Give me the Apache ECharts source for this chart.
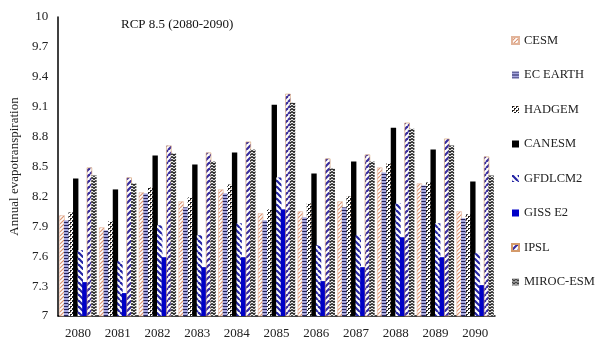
<!DOCTYPE html>
<html><head><meta charset="utf-8">
<script src="https://cdn.jsdelivr.net/npm/echarts@6/dist/echarts.min.js"></script>
<style>html,body{margin:0;padding:0;background:#fff}#c{width:597px;height:341px}</style>
</head><body><div id="c"></div>
<script>
const categories = ['2080','2081','2082','2083','2084','2085','2086','2087','2088','2089','2090'];
const cesm    = [8.01, 7.89, 8.24, 8.15, 8.27, 8.03, 8.05, 8.15, 8.49, 8.33, 8.05];
const ecEarth = [7.96, 7.86, 8.23, 8.09, 8.23, 7.96, 7.99, 8.09, 8.44, 8.31, 7.98];
const hadgem  = [8.04, 7.95, 8.29, 8.19, 8.32, 8.07, 8.13, 8.20, 8.53, 8.34, 8.02];
const canesm  = [8.38, 8.27, 8.61, 8.52, 8.64, 9.12, 8.43, 8.55, 8.89, 8.67, 8.35];
const gfdlcm2 = [7.66, 7.55, 7.91, 7.81, 7.93, 8.39, 7.71, 7.81, 8.13, 7.93, 7.63];
const gissE2  = [7.34, 7.23, 7.59, 7.49, 7.59, 8.07, 7.35, 7.49, 7.79, 7.59, 7.31];
const ipsl    = [8.49, 8.39, 8.71, 8.64, 8.75, 9.23, 8.58, 8.62, 8.94, 8.78, 8.60];
const miroc   = [8.41, 8.33, 8.63, 8.55, 8.67, 9.14, 8.48, 8.55, 8.88, 8.71, 8.41];
const yTicks  = [7, 7.3, 7.6, 7.9, 8.2, 8.5, 8.8, 9.1, 9.4, 9.7, 10];

function pat(w, h, draw) {
  const c = document.createElement('canvas');
  c.width = w; c.height = h;
  const g = c.getContext('2d');
  g.fillStyle = '#fff'; g.fillRect(0, 0, w, h);
  draw(g, w, h);
  return { image: c, repeat: 'repeat' };
}
function diag(g, s, color, lw, dir) {
  g.strokeStyle = color; g.lineWidth = lw;
  for (let k = -1; k <= 1; k++) {
    g.beginPath();
    if (dir > 0) { g.moveTo(k * s, s); g.lineTo(k * s + s, 0); }
    else { g.moveTo(k * s, 0); g.lineTo(k * s + s, s); }
    g.stroke();
  }
}
const pCesm = pat(4, 4, (g) => diag(g, 4, '#dc9472', 1.2, 1));
const pEc = pat(4, 3, (g) => { g.fillStyle = '#a8a8e0'; g.fillRect(0, 1, 4, 2); g.fillStyle = '#22225a'; g.fillRect(0, 0, 4, 1); });
const pHad = pat(4, 4, (g) => {
  g.fillStyle = '#1e1e1e'; g.fillRect(0, 0, 2, 2); g.fillRect(2, 2, 2, 2);
  g.fillStyle = '#fff'; g.fillRect(1, 1, 1, 1); g.fillRect(3, 3, 1, 1);
  g.fillStyle = '#b8967a'; g.fillRect(2, 0, 1, 1);
});
const pGfdl = pat(6, 6, (g) => diag(g, 6, '#2424a4', 2.2, -1));
const pIpsl = pat(6, 6, (g) => diag(g, 6, '#382c9e', 2.2, 1));
const pMiroc = pat(4, 3, (g) => {
  g.strokeStyle = '#1e1e1e'; g.lineWidth = 1.4;
  g.beginPath(); g.moveTo(0, 0.5); g.lineTo(2, 2.3); g.lineTo(4, 0.5); g.stroke();
});

const serif = 'Liberation Serif';
const names = ['CESM', 'EC EARTH', 'HADGEM', 'CANESM', 'GFDLCM2', 'GISS E2', 'IPSL', 'MIROC-ESM'];
const datas = [cesm, ecEarth, hadgem, canesm, gfdlcm2, gissE2, ipsl, miroc];
const styles = [
  { color: pCesm, borderColor: '#e2b49a', borderWidth: 0.6 },
  { color: pEc },
  { color: pHad },
  { color: '#000' },
  { color: pGfdl },
  { color: '#0000c8' },
  { color: pIpsl, borderColor: '#d49a6a', borderWidth: 0.6 },
  { color: pMiroc }
];

const chart = echarts.init(document.getElementById('c'));
chart.setOption({
  animation: false,
  backgroundColor: '#fff',
  title: {
    text: 'RCP 8.5 (2080-2090)', left: 116, top: 13,
    textStyle: { fontFamily: serif, fontSize: 13, fontWeight: 'normal', color: '#111' }
  },
  legend: {
    orient: 'vertical', left: 506, top: 29, itemGap: 21.5,
    itemWidth: 7, itemHeight: 7, icon: 'rect',
    textStyle: { fontFamily: serif, fontSize: 12.5, color: '#222' },
    data: names
  },
  grid: { left: 55, right: 102, top: 17, bottom: 25 },
  xAxis: {
    type: 'category', data: categories,
    axisLine: { lineStyle: { color: '#000', width: 1.5 } },
    axisTick: { show: false },
    axisLabel: { margin: 11, fontFamily: serif, fontSize: 13, color: '#222' }
  },
  yAxis: {
    type: 'value', min: 7, max: 10,
    name: 'Annual evapotranspiration', nameLocation: 'middle', nameGap: 34,
    nameTextStyle: { fontFamily: serif, fontSize: 13, color: '#222' },
    axisLine: { show: true, lineStyle: { color: '#000', width: 1.5 } },
    axisTick: { show: false },
    splitLine: { show: false },
    axisLabel: {
      customValues: yTicks, margin: 10,
      fontFamily: serif, fontSize: 13, color: '#222',
      formatter: (v) => String(+v.toFixed(1))
    }
  },
  series: names.map((n, i) => ({
    name: n, type: 'bar', data: datas[i],
    barCategoryGap: '6%', barGap: '-15%',
    itemStyle: styles[i]
  }))
});
</script></body></html>
